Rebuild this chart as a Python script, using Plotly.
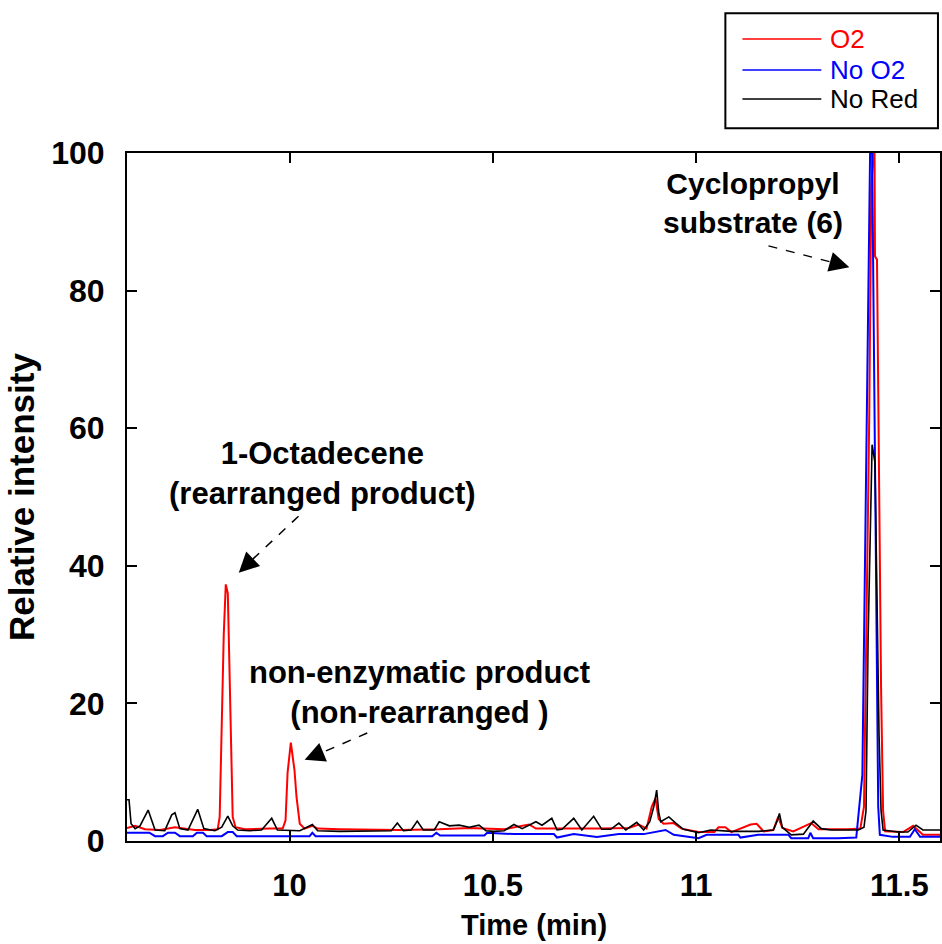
import plotly.graph_objects as go

# ---------------- data ----------------
t_o2 = [9.600, 9.620, 9.644, 9.681, 9.718, 9.767, 9.804, 9.823, 9.828, 9.833, 9.838, 9.843,
        9.848, 9.850, 9.855, 9.860, 9.867, 9.890, 9.951, 9.983, 9.990, 9.995, 10.003, 10.007,
        10.012, 10.017, 10.025, 10.037, 10.056, 10.069, 10.123, 10.270, 10.368, 10.442, 10.528,
        10.589, 10.606, 10.761, 10.834, 10.859, 10.878, 10.891, 10.900, 10.908, 10.920, 10.945,
        10.964, 11.006, 11.045, 11.055, 11.072, 11.087, 11.134, 11.149, 11.166, 11.190, 11.202,
        11.212, 11.239, 11.283, 11.301, 11.374, 11.404, 11.413, 11.418, 11.426, 11.431, 11.436,
        11.439, 11.440, 11.445, 11.450, 11.455, 11.460, 11.465, 11.509, 11.534, 11.558, 11.600]
v_o2 = [1.9, 2.2, 1.7, 1.6, 2.0, 1.6, 1.6, 1.7, 3.5, 17.0, 30.0, 37.3,
        36.0, 30.7, 17.0, 3.5, 2.0, 1.7, 1.8, 1.8, 3.0, 9.9, 14.3, 12.8,
        10.3, 6.4, 2.5, 1.8, 2.2, 1.8, 1.7, 1.6, 1.7, 1.9, 1.7,
        2.4, 1.8, 1.8, 1.9, 2.4, 1.8, 5.0, 6.2, 3.2, 2.5, 2.6,
        1.8, 1.3, 1.3, 2.0, 2.0, 1.3, 2.4, 2.5, 1.4, 1.6, 3.5,
        1.9, 1.4, 2.6, 1.7, 1.7, 1.8, 5.0, 27.7, 62.0, 95.0, 100.0,
        100.0, 85.0, 84.5, 53.0, 22.4, 4.4, 1.4, 1.3, 2.2, 0.9, 0.9]

t_no_o2 = [9.600, 9.655, 9.669, 9.688, 9.701, 9.718, 9.730, 9.762, 9.772, 9.787, 9.796, 9.833,
           9.848, 9.860, 9.870, 10.049, 10.056, 10.064, 10.351, 10.361, 10.370, 10.479, 10.486,
           10.552, 10.650, 10.658, 10.699, 10.756, 10.810, 10.871, 10.925, 10.945, 11.006, 11.026,
           11.104, 11.109, 11.153, 11.227, 11.234, 11.276, 11.281, 11.288, 11.350, 11.394, 11.409,
           11.413, 11.418, 11.423, 11.428, 11.433, 11.438, 11.443, 11.448, 11.452, 11.484, 11.526,
           11.538, 11.551, 11.600]
v_no_o2 = [1.2, 1.2, 0.7, 0.7, 1.2, 1.2, 0.7, 0.7, 1.2, 1.2, 0.7, 0.7,
           1.3, 1.3, 0.7, 0.7, 1.2, 0.7, 0.7, 1.2, 0.8, 0.8, 1.2,
           1.0, 1.0, 0.5, 1.0, 0.6, 1.0, 1.0, 1.6, 0.9, 0.4, 0.9,
           0.9, 0.5, 0.9, 0.9, 0.4, 0.4, 1.2, 0.4, 0.4, 0.5, 9.6,
           28.0, 51.6, 81.6, 100.0, 100.0, 68.0, 33.0, 5.0, 0.9, 0.6, 0.6,
           1.7, 0.6, 0.6]

t_no_red = [9.600, 9.605, 9.610, 9.620, 9.632, 9.652, 9.669, 9.693, 9.710, 9.718, 9.730, 9.750,
            9.774, 9.789, 9.816, 9.833, 9.848, 9.860, 9.872, 9.902, 9.931, 9.956, 9.970, 10.000,
            10.025, 10.056, 10.069, 10.123, 10.196, 10.250, 10.265, 10.280, 10.299, 10.314, 10.329,
            10.356, 10.368, 10.393, 10.417, 10.442, 10.466, 10.483, 10.503, 10.528, 10.552, 10.572,
            10.606, 10.621, 10.645, 10.658, 10.670, 10.699, 10.719, 10.748, 10.768, 10.790, 10.810,
            10.827, 10.854, 10.871, 10.886, 10.896, 10.903, 10.908, 10.913, 10.925, 10.933, 10.950,
            10.969, 11.006, 11.036, 11.087, 11.153, 11.190, 11.200, 11.205, 11.212, 11.234, 11.264,
            11.288, 11.308, 11.333, 11.399, 11.413, 11.418, 11.423, 11.428, 11.433, 11.440, 11.445,
            11.450, 11.455, 11.460, 11.497, 11.521, 11.541, 11.558, 11.600]
v_no_red = [6.0, 6.0, 2.5, 1.8, 2.2, 4.5, 1.6, 1.5, 3.8, 4.1, 1.8, 1.6,
            4.6, 1.8, 1.5, 2.0, 3.6, 2.2, 1.6, 1.5, 1.6, 3.3, 1.6, 1.5,
            1.5, 2.4, 1.5, 1.4, 1.4, 1.5, 2.6, 1.5, 1.6, 2.9, 1.6,
            1.6, 2.8, 2.2, 2.3, 2.0, 2.3, 1.5, 1.4, 1.5, 2.4, 1.8,
            2.8, 2.3, 3.3, 1.6, 1.7, 3.3, 1.6, 3.6, 1.7, 1.7, 2.6,
            1.6, 2.7, 1.6, 2.8, 5.0, 7.4, 4.2, 2.8, 3.2, 3.5, 2.6,
            1.7, 1.2, 1.6, 1.4, 1.4, 1.6, 3.0, 4.0, 2.0, 0.9, 1.0,
            2.9, 1.8, 1.6, 1.6, 2.0, 4.4, 29.0, 43.6, 57.6, 55.0, 33.7,
            15.6, 4.4, 1.6, 1.3, 1.3, 2.3, 1.6, 1.6]

series_names = ["O2", "No O2", "No Red"]
series_colors = ["#ff0000", "#0000ff", "#000000"]

x_tick_vals = [10, 10.5, 11, 11.5]
x_tick_text = ["10", "10.5", "11", "11.5"]
y_tick_vals = [0, 20, 40, 60, 80, 100]

# ---------------- figure ----------------
FONT = "Arial, Liberation Sans, sans-serif"
fig = go.Figure()
fig.add_trace(go.Scatter(x=t_o2, y=v_o2, mode="lines", name=series_names[0],
                         line=dict(color=series_colors[0], width=2)))
fig.add_trace(go.Scatter(x=t_no_o2, y=v_no_o2, mode="lines", name=series_names[1],
                         line=dict(color=series_colors[1], width=2)))
fig.add_trace(go.Scatter(x=t_no_red, y=v_no_red, mode="lines", name=series_names[2],
                         line=dict(color=series_colors[2], width=1.6)))

axis_common = dict(showline=True, linecolor="black", linewidth=2, mirror="ticks",
                   ticks="inside", ticklen=10, tickwidth=2, tickcolor="black",
                   showgrid=False, zeroline=False,
                   tickfont=dict(family=FONT, size=32, color="black", weight="bold"))

fig.update_layout(
    width=942, height=944,
    margin=dict(l=127, r=0, t=153, b=103),
    paper_bgcolor="white", plot_bgcolor="white",
    showlegend=False,
    xaxis=dict(range=[9.6, 11.6], tickvals=x_tick_vals, ticktext=x_tick_text,
               ticklabelstandoff=16, **axis_common),
    yaxis=dict(range=[0, 100], tickvals=y_tick_vals, ticklabelstandoff=14,
               title=dict(text="Relative intensity", standoff=6,
                          font=dict(family=FONT, size=35, color="black", weight="bold")),
               **axis_common),
)
fig.update_xaxes(tickfont=dict(size=31))

# x-axis title placed explicitly below the tick labels
fig.add_annotation(xref="paper", yref="paper", x=0.5, y=-0.122, text="Time (min)",
                   showarrow=False, xanchor="center", yanchor="middle",
                   font=dict(family=FONT, size=29, color="black", weight="bold"))

# ---------------- annotations ----------------
ann_font = dict(family=FONT, size=31, color="black", weight="bold")
labels = [
    ("Cyclopropyl<br>substrate (6)", 11.141, 92.8, 30),
    ("1-Octadecene<br>(rearranged product)", 10.081, 53.4, 31),
    ("non-enzymatic product<br>(non-rearranged )", 10.319, 21.6, 31),
]
for txt, x, y, fs in labels:
    fig.add_annotation(x=x, y=y, text=txt, showarrow=False, align="center",
                       font=dict(ann_font, size=fs),
                       xanchor="center", yanchor="middle")

# arrows: (tail_x, tail_y, head_x, head_y, back_x, back_y) in data coordinates
arrows = [
    (11.178, 86.5, 11.377, 83.4, 11.329, 84.2),
    (10.022, 47.2, 9.875, 39.0, 9.910, 41.0),
    (10.191, 15.7, 10.037, 11.8, 10.082, 12.9),
]
for tx, ty, hx, hy, bx, by in arrows:
    fig.add_shape(type="line", x0=tx, y0=ty, x1=bx, y1=by, xref="x", yref="y",
                  line=dict(color="black", width=1.5, dash="dash"))
    fig.add_annotation(x=hx, y=hy, ax=bx, ay=by, axref="x", ayref="y", text="",
                       showarrow=True, arrowhead=2, arrowsize=2.0, arrowwidth=2,
                       arrowcolor="black")

# ---------------- custom legend ----------------
fig.add_shape(type="rect", xref="paper", yref="paper", x0=0.736, x1=0.9975, y0=1.036, y1=1.203,
              line=dict(color="black", width=2), fillcolor="white")
leg_y = [1.1657, 1.1206, 1.0785]
for name, col, ly in zip(series_names, series_colors, leg_y):
    fig.add_shape(type="line", xref="paper", yref="paper", x0=0.757, x1=0.854, y0=ly, y1=ly,
                  line=dict(color=col, width=1.6))
    fig.add_annotation(xref="paper", yref="paper", x=0.8626, y=ly, text=name, showarrow=False,
                       xanchor="left", yanchor="middle",
                       font=dict(family=FONT, size=26, color=col))

fig.write_html("out.html")
